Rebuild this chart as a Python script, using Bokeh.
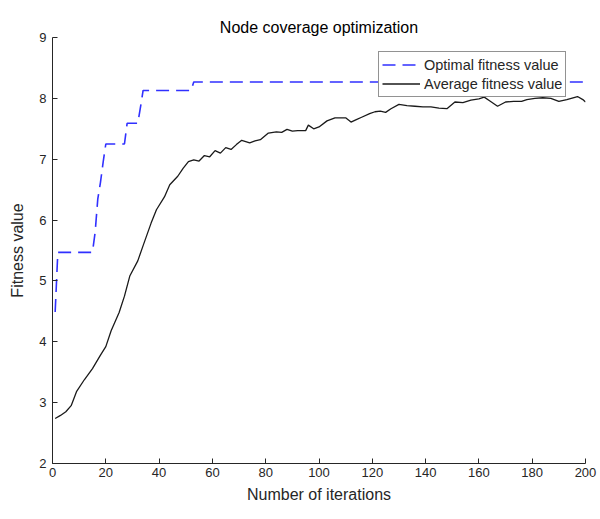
from bokeh.plotting import figure
from bokeh.models import Range1d, Legend, LegendItem, FixedTicker
from bokeh.embed import file_html
from bokeh.resources import INLINE

# ---- data ----
opt_iter = [1, 2, 15, 16, 17, 18, 19, 20, 27, 28, 32, 33, 34, 52, 53, 200]
opt_val = [4.49, 5.47, 5.47, 5.8, 6.35, 6.62, 6.95, 7.25, 7.25, 7.59, 7.59, 7.85, 8.13, 8.13, 8.27, 8.27]

avg_iter = [1, 3, 5, 7, 9, 12, 15, 18, 20, 22, 25, 27, 29, 32, 34, 37, 39, 42, 44, 47,
            49, 51, 53, 55, 57, 59, 61, 63, 65, 67, 69, 71, 74, 76, 78, 81, 84, 86, 88, 90,
            92, 95, 96, 98, 100, 103, 106, 110, 112, 114, 116, 119, 121, 123, 125, 127, 130, 133, 136, 139,
            142, 145, 148, 151, 154, 157, 160, 162, 164, 167, 170, 173, 176, 178, 181, 184, 187, 190, 193, 197,
            199, 200]
avg_val = [2.74, 2.79, 2.85, 2.95, 3.18, 3.38, 3.56, 3.78, 3.92, 4.18, 4.48, 4.75, 5.08, 5.33, 5.58, 5.95, 6.17, 6.38, 6.58, 6.72,
           6.85, 6.96, 6.99, 6.97, 7.06, 7.04, 7.14, 7.10, 7.19, 7.16, 7.24, 7.31, 7.27, 7.30, 7.32, 7.43, 7.45, 7.44, 7.49, 7.46,
           7.47, 7.47, 7.56, 7.50, 7.53, 7.63, 7.68, 7.68, 7.61, 7.65, 7.69, 7.75, 7.78, 7.79, 7.77, 7.83, 7.90, 7.88, 7.87, 7.86,
           7.86, 7.84, 7.83, 7.94, 7.93, 7.97, 7.99, 8.02, 7.96, 7.87, 7.94, 7.95, 7.95, 7.98, 8.00, 8.01, 8.00, 7.95, 7.98, 8.03,
           7.98, 7.94]

x_ticks = [0, 20, 40, 60, 80, 100, 120, 140, 160, 180, 200]
y_ticks = [2, 3, 4, 5, 6, 7, 8, 9]

title_text = "Node coverage optimization"
x_label = "Number of iterations"
y_label = "Fitness value"
series_names = ["Optimal fitness value", "Average fitness value"]

FONT = "Liberation Sans"
TXT = "#262626"

p = figure(width=600, height=519, output_backend="svg", toolbar_location=None,
           x_range=Range1d(0, 200), y_range=Range1d(2, 9), title=title_text)
p.min_border_left = 52
p.min_border_right = 15
p.min_border_top = 37
p.min_border_bottom = 56
p.outline_line_color = None
p.background_fill_color = "white"
p.border_fill_color = "white"
p.xgrid.visible = False
p.ygrid.visible = False

p.title.align = "center"
p.title.text_font = FONT
p.title.text_font_style = "normal"
p.title.text_font_size = "16px"
p.title.text_color = "#000000"
p.title.standoff = 4

for ax, ticks in ((p.xaxis[0], x_ticks), (p.yaxis[0], y_ticks)):
    ax.ticker = FixedTicker(ticks=ticks)
    ax.major_tick_in = 5
    ax.major_tick_out = 0
    ax.minor_tick_line_color = None
    ax.axis_line_color = "#262626"
    ax.major_tick_line_color = "#262626"
    ax.major_label_text_font = FONT
    ax.major_label_text_font_size = "13px"
    ax.major_label_text_color = TXT
    ax.axis_label_text_font = FONT
    ax.axis_label_text_font_size = "16px"
    ax.axis_label_text_font_style = "normal"
    ax.axis_label_text_color = TXT

p.xaxis.axis_label = x_label
p.yaxis.axis_label = y_label
p.xaxis.major_label_standoff = 4
p.yaxis.major_label_standoff = 6
p.xaxis.axis_label_standoff = 6
p.yaxis.axis_label_standoff = 10

r1 = p.line(opt_iter, opt_val, line_color="#3030ff", line_width=1.6, line_dash="13 7")
r2 = p.line(avg_iter, avg_val, line_color="#1a1a1a", line_width=1.3)

legend = Legend(items=[LegendItem(label=series_names[0], renderers=[r1]),
                       LegendItem(label=series_names[1], renderers=[r2])],
                location=(326, 366))
legend.label_text_font = FONT
legend.label_text_font_size = "14.5px"
legend.label_text_color = TXT
legend.border_line_color = "#262626"
legend.border_line_width = 1
legend.background_fill_alpha = 1
legend.padding = 3
legend.spacing = 0
legend.margin = 0
legend.glyph_width = 38
legend.glyph_height = 19
legend.label_height = 19
legend.label_standoff = 4
p.add_layout(legend, "center")

open("out.html", "w").write(file_html(p, INLINE))
